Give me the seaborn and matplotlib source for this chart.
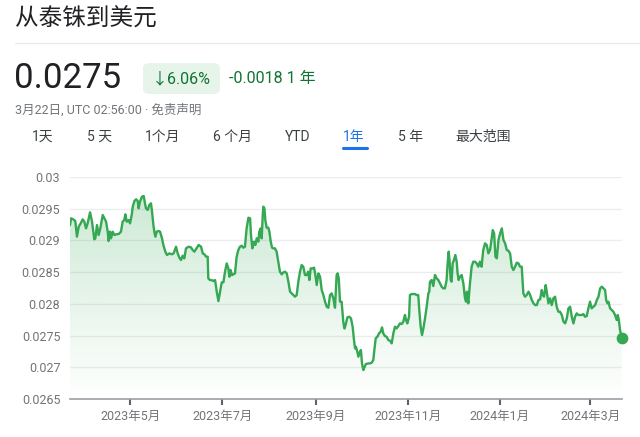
import numpy as np
import pandas as pd
import matplotlib
matplotlib.use("Agg")
import matplotlib.pyplot as plt
import matplotlib.dates as mdates
from matplotlib.colors import to_rgb
from matplotlib.patches import FancyBboxPatch
from matplotlib.ticker import FuncFormatter
import seaborn as sns

# THB -> USD, one year
start = pd.Timestamp("2023-03-22")
day_offset = [
    0, 0.7, 2.2, 3.5, 4.6, 5.8, 7.1, 8.4, 9.5, 10.6, 11.7, 13.3, 14.6, 16.1, 16.8, 17.9,
    19.0, 20.1, 21.7, 22.8, 23.9, 25.0, 25.6, 26.5, 27.2, 28.3, 29.4, 30.5, 32.3, 33.8,
    34.9, 36.0, 36.7, 37.6, 38.9, 39.8, 40.9, 41.6, 42.7, 43.8, 44.9, 45.5, 46.4, 47.7,
    48.9, 49.7, 50.4, 51.5, 52.6, 53.7, 54.4, 55.3, 55.9, 56.6, 57.5, 58.8, 59.7, 61.0,
    61.9, 63.2, 64.3, 65.9, 67.6, 68.7, 70.3, 71.4, 72.5, 73.6, 74.7, 75.8, 76.9, 78.7,
    80.2, 81.3, 82.5, 83.6, 85.3, 86.9, 88.0, 89.1, 90.2, 91.3,
    91.7, 92.8, 93.9, 95.0, 96.2, 97.3, 98.4, 99.5, 100.6, 101.7, 102.8, 103.9, 105.0,
    105.7, 106.5, 107.4, 108.3, 109.4, 110.5, 111.6, 112.7, 113.8, 114.9, 116.0, 117.1,
    118.3, 119.4, 120.0, 120.9, 122.0, 122.9, 123.8, 124.9, 125.5, 126.4, 127.1, 127.8,
    128.2, 128.9, 129.5, 130.4, 131.5, 132.2, 133.1, 134.0, 134.8, 135.9, 137.0, 138.1,
    139.2, 140.4, 141.5, 142.6, 143.7, 144.8, 145.9, 147.0, 148.1, 149.2, 150.3, 151.4,
    152.5, 153.6, 154.7, 155.8, 156.9, 158.0, 158.7, 159.6, 160.9, 161.8, 162.7, 163.6,
    164.7, 165.8, 166.9, 168.0, 169.1, 170.2, 171.3, 172.4, 173.5, 174.6, 175.7, 176.8,
    177.5, 178.2, 179.0, 180.1, 181.2, 181.9,
    182.1, 183.0, 183.9, 185.2, 186.3, 187.4, 188.3, 189.0, 189.6, 190.5, 191.2, 192.3,
    192.9, 193.6, 194.5, 195.4, 196.2, 197.8, 198.9, 200.0, 201.1, 201.8, 202.7, 203.8,
    204.9, 206.0, 206.9, 207.7, 208.8, 209.9, 211.1, 212.2, 213.3, 214.4, 215.5, 216.6,
    217.7, 218.8, 219.9, 221.0, 222.1, 222.8, 223.7, 224.8, 225.4, 226.5, 227.6, 228.7,
    229.8, 230.9, 231.6, 232.5, 233.4, 234.3, 235.4, 236.5, 237.6, 238.2, 238.7, 239.8,
    240.9, 242.0, 243.1, 244.2, 245.3, 246.4, 247.5, 248.6, 249.7, 250.4, 251.1, 251.7,
    252.4, 253.0, 253.7, 254.6, 255.5, 256.4, 257.0, 257.7, 258.6, 259.7, 260.8, 261.9,
    262.6, 263.2, 264.1, 265.2, 266.3, 267.4, 268.5, 269.6, 270.7, 271.8, 272.9, 274.0,
    275.2,
    276.3, 277.4, 278.5, 279.6, 280.3, 281.2, 282.1, 283.0, 284.1, 285.2, 286.3, 287.4,
    288.5, 289.6, 290.7, 291.8, 292.9, 294.0, 295.1, 296.2, 297.3, 298.4, 299.5, 300.6,
    301.7, 302.8, 304.0, 305.1, 306.2, 307.3, 308.4, 309.5, 310.6, 311.7, 312.8, 313.5,
    314.3, 315.4, 316.1, 317.2, 318.3, 319.4, 320.5, 321.6, 322.7, 323.8, 324.9, 326.1,
    327.2, 328.3, 329.4, 330.5, 331.6, 332.7, 333.8, 334.9, 336.0, 337.1, 338.2, 339.3,
    340.4, 341.5, 342.6, 343.7, 344.8, 345.9, 347.0, 348.2, 349.3, 350.4, 351.5, 352.6,
    353.7, 354.8, 355.5, 356.3, 357.0, 358.1, 359.2, 360.3, 361.4, 362.5, 363.2, 363.9,
    364.7, 365.8,
]
rate = [
    0.029243, 0.029348, 0.029332, 0.029306, 0.029059, 0.029217, 0.029269, 0.029332,
    0.029296, 0.029190, 0.029270, 0.029443, 0.029296, 0.029017, 0.029033, 0.029243,
    0.029085, 0.029190, 0.029401, 0.029348, 0.029296, 0.029138, 0.028991, 0.029138,
    0.029033, 0.029138, 0.029085, 0.029096, 0.029101, 0.029138, 0.029296, 0.029322,
    0.029411, 0.029296, 0.029322, 0.029269, 0.029401, 0.029532, 0.029622, 0.029648,
    0.029622, 0.029506, 0.029611, 0.029690, 0.029700, 0.029585, 0.029506, 0.029480,
    0.029559, 0.029585, 0.029453, 0.029243, 0.029138, 0.029059, 0.029138, 0.029149,
    0.029138, 0.029033, 0.028928, 0.028823, 0.028770, 0.028796, 0.028781, 0.028796,
    0.028901, 0.028796, 0.028728, 0.028691, 0.028759, 0.028717, 0.028875, 0.028901,
    0.028891, 0.028849, 0.028823, 0.028865, 0.028928, 0.028901, 0.028796, 0.028781,
    0.028744, 0.028744,
    0.028402, 0.028375, 0.028375, 0.028360, 0.028375, 0.028191, 0.028044, 0.028191,
    0.028339, 0.028339, 0.028507, 0.028638, 0.028559, 0.028428, 0.028533, 0.028454,
    0.028465, 0.028481, 0.028743, 0.028849, 0.028901, 0.028917, 0.028885, 0.028901,
    0.029190, 0.029358, 0.029348, 0.029085, 0.028875, 0.028980, 0.028928, 0.029033,
    0.028980, 0.029138, 0.029190, 0.029033, 0.029400, 0.029532, 0.029506, 0.029322,
    0.029201, 0.029201, 0.029138, 0.028980, 0.028885, 0.028875, 0.028875, 0.028822,
    0.028665, 0.028507, 0.028465, 0.028496, 0.028507, 0.028481, 0.028349, 0.028191,
    0.028165, 0.028139, 0.028113, 0.028139, 0.028349, 0.028507, 0.028612, 0.028586,
    0.028454, 0.028454, 0.028507, 0.028375, 0.028559, 0.028559, 0.028570, 0.028454,
    0.028297, 0.028481, 0.028428, 0.028218, 0.028139, 0.028034, 0.027955, 0.027939,
    0.028139, 0.028165, 0.028086, 0.027939, 0.028454, 0.028481, 0.028402, 0.028034,
    0.028034, 0.027718, 0.027613,
    0.027613, 0.027692, 0.027787, 0.027797, 0.027771, 0.027640, 0.027429, 0.027298,
    0.027324, 0.027246, 0.027167, 0.027246, 0.027272, 0.027061, 0.026956, 0.027009,
    0.027051, 0.027061, 0.027061, 0.027072, 0.027114, 0.027272, 0.027456, 0.027482,
    0.027535, 0.027561, 0.027629, 0.027535, 0.027493, 0.027482, 0.027429, 0.027419,
    0.027377, 0.027535, 0.027640, 0.027613, 0.027650, 0.027692, 0.027682, 0.027719,
    0.027824, 0.027745, 0.027692, 0.027797, 0.028139, 0.028155, 0.028155, 0.028155,
    0.028139, 0.028139, 0.027903, 0.027640, 0.027508, 0.027613, 0.027771, 0.027955,
    0.028165, 0.028192, 0.028349, 0.028376, 0.028281, 0.028455, 0.028402, 0.028376,
    0.028323, 0.028271, 0.028244, 0.028244, 0.028376, 0.028639, 0.028823, 0.028665,
    0.028376, 0.028349, 0.028639, 0.028691, 0.028770, 0.028665, 0.028481, 0.028376,
    0.028428, 0.028455, 0.028323, 0.028087, 0.028034, 0.028192, 0.028008, 0.028323,
    0.028586, 0.028665, 0.028665, 0.028639, 0.028586, 0.028665, 0.028586, 0.028849,
    0.028954,
    0.028928, 0.028796, 0.028849, 0.029033, 0.029164, 0.029112, 0.028744, 0.028717,
    0.029007, 0.029112, 0.029190, 0.029007, 0.028954, 0.028849, 0.028838, 0.028796,
    0.028586, 0.028533, 0.028586, 0.028649, 0.028639, 0.028586, 0.028586, 0.028165,
    0.028113, 0.028139, 0.028192, 0.028139, 0.028060, 0.028008, 0.027981, 0.027981,
    0.028060, 0.028071, 0.028218, 0.028139, 0.028113, 0.028297, 0.028192, 0.028008,
    0.028087, 0.027981, 0.028087, 0.028113, 0.027955, 0.027876, 0.027876, 0.027824,
    0.027719, 0.027692, 0.027771, 0.027929, 0.027955, 0.027797, 0.027692, 0.027797,
    0.027850, 0.027824, 0.027824, 0.027824, 0.027839, 0.027797, 0.027808, 0.027929,
    0.028034, 0.027929, 0.027955, 0.027981, 0.028060, 0.028113, 0.028244, 0.028271,
    0.028244, 0.028218, 0.028060, 0.028008, 0.028034, 0.027929, 0.027903, 0.027876,
    0.027824, 0.027745, 0.027824, 0.027745, 0.027587, 0.027456,
]
tick_dates = ["2023-05-01", "2023-07-01", "2023-09-01", "2023-11-01", "2024-01-01", "2024-03-01"]
y_ticks = [0.0265, 0.027, 0.0275, 0.028, 0.0285, 0.029, 0.0295, 0.03]
tabs = ["1天", "5 天", "1个月", "6 个月", "YTD", "1年", "5 年", "最大范围"]

title = "从泰铢到美元"
price = "0.0275"
change_pct = "↓6.06%"
change_abs = "-0.0018 1 年"
stamp = "3月22日, UTC 02:56:00 · 免责声明"

green = "#34a853"
text_dark = "#202124"
text_grey = "#70757a"

sns.set_theme(style="white")
plt.rcParams["font.family"] = ["Roboto", "Noto Sans CJK SC", "DejaVu Sans"]

W, H = 640, 437
fig = plt.figure(figsize=(W / 100, H / 100), dpi=100)


def px(x, y):
    return x / W, 1 - y / H


# header
fig.text(*px(15, 19), title, fontsize=17, color=text_dark, va="center", ha="left")
fig.add_artist(plt.Line2D([15 / W, 1], [1 - 43 / H] * 2, color="#e8eaed", lw=1))
fig.text(*px(14, 79), price, fontsize=25, color=text_dark, va="center", ha="left")
badge = FancyBboxPatch(px(143, 94), 77 / W, 31 / H, boxstyle="round,pad=0,rounding_size=0.012",
                       transform=fig.transFigure, facecolor="#e6f4ea", edgecolor="none")
fig.add_artist(badge)
fig.text(*px(181, 79), change_pct, fontsize=11.5, color="#137333", va="center", ha="center")
fig.text(*px(229, 79), change_abs, fontsize=11.5, color="#137333", va="center", ha="left")
fig.text(*px(15, 110), stamp, fontsize=9, color=text_grey, va="center", ha="left")

tab_x = [32, 87, 145, 213, 285, 343, 398, 455]
for lab, tx in zip(tabs, tab_x):
    active = lab == "1年"
    fig.text(*px(tx, 137), lab, fontsize=10, color="#1a73e8" if active else "#3c4043",
             va="center", ha="left")
fig.add_artist(plt.Line2D([343 / W, 367 / W], [1 - 148 / H] * 2, color="#1a73e8", lw=2.2,
                          solid_capstyle="round"))

# chart
ax = fig.add_axes([70 / W, 1 - 399 / H, 552 / W, 222 / H])
dates = start + pd.to_timedelta(day_offset, unit="D")
df = pd.DataFrame({"date": dates, "rate": rate})
ymin, ymax = y_ticks[0], y_ticks[-1]
x0, x1 = start, start + pd.Timedelta(days=366)

poly = ax.fill_between(df["date"], df["rate"], ymin, color="none", lw=0)
grad = np.zeros((256, 1, 4))
grad[..., :3] = to_rgb(green)
grad[..., 3] = np.linspace(0, 0.27, 256)[:, None]
im = ax.imshow(grad, extent=[mdates.date2num(x0), mdates.date2num(x1), ymin, ymax],
               origin="lower", aspect="auto", zorder=1)
im.set_clip_path(poly.get_paths()[0], transform=ax.transData)

sns.lineplot(data=df, x="date", y="rate", ax=ax, color=green, linewidth=1.7, zorder=3)
ax.scatter(df["date"].iloc[-1], df["rate"].iloc[-1], s=55, color=green, zorder=4, clip_on=False)

ax.set_xlim(x0, x1)
ax.set_ylim(ymin, ymax)
ax.set_aspect("auto")
ax.set_yticks(y_ticks)
ax.yaxis.set_major_formatter(FuncFormatter(lambda v, p: f"{v:g}"))
ax.set_xticks(pd.to_datetime(tick_dates))
ax.set_xticklabels([f"{d.year}年{d.month}月" for d in pd.to_datetime(tick_dates)])
ax.set_xlabel("")
ax.set_ylabel("")

for s in ["top", "right", "left"]:
    ax.spines[s].set_visible(False)
ax.spines["bottom"].set_color("#9aa0a6")
ax.spines["bottom"].set_linewidth(1.2)
ax.yaxis.grid(True, color="#ededed", lw=1)
ax.xaxis.grid(False)
ax.set_axisbelow(True)
ax.tick_params(axis="y", length=0, pad=7, labelsize=9, labelcolor=text_grey)
ax.tick_params(axis="x", length=4, width=1.5, color="#5f6368", pad=4, labelsize=9,
               labelcolor=text_grey, bottom=True)

fig.savefig("out.png", dpi=100)
